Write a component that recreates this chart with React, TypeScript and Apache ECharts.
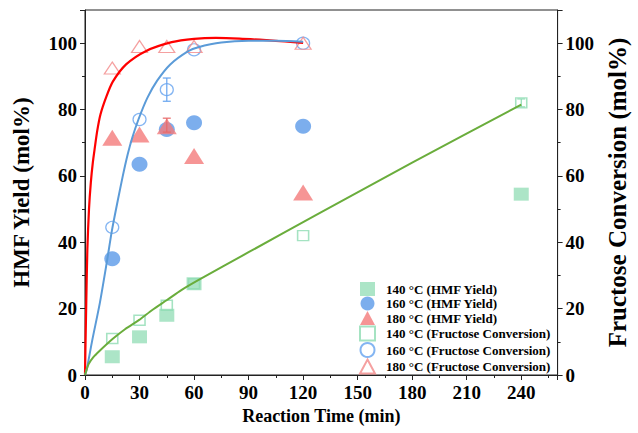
import React, { useEffect, useRef } from "react";
import * as echarts from "echarts";

// ---- data ----
const times = [15, 30, 45, 60, 120, 240];
const hmf140: (number | null)[] = [5.5, 11.5, 18, 27.5, null, 54.5];
const hmf160: (number | null)[] = [35, 63.5, 74, 76, 75, null];
const hmf180: (number | null)[] = [71.5, 72.5, 75, 66, 55, null];
const conv140: (number | null)[] = [11, 16.5, 21, 27.5, 42, 82];
const conv160: (number | null)[] = [44.5, 77, 86, 98, 100, null];
const conv180: (number | null)[] = [92.5, 99, 99, 99, 100, null];

// fitted curves: [time, value]
const fit180: number[][] = [
  [0, 0], [0.3, 10], [0.7, 22], [1.3, 38], [2.2, 50], [3.2, 58], [4.3, 64], [5.4, 68.5],
  [6.7, 73.5], [8.5, 78.5], [11.7, 83.8], [15.3, 88.4], [22.6, 93.6], [33.4, 97.6],
  [47.7, 100.3], [60, 101.3], [72, 101.6], [85, 101.4], [100, 100.9], [110, 100.5], [120, 100.1],
];
const fit160: number[][] = [
  [0, 0], [1, 1.8], [4, 10.5], [8.1, 21.5], [12, 34], [14.8, 43.5], [18, 52.5], [20.8, 60],
  [23.5, 66.5], [26, 71.5], [29.4, 77], [34.3, 83.5], [39.7, 88.7], [46.9, 93.6],
  [56.8, 97.6], [62.3, 98.8], [75, 100.2], [90, 100.7], [105, 100.7], [120, 100.4],
];
const fit140: number[][] = [
  [0, 0], [0.9, 1.6], [2, 3.3], [4.5, 5.3], [8.1, 7.3], [15.3, 10.9], [22, 13.8],
  [29.8, 16.6], [37, 19.6], [45.1, 22.6], [53, 25.6], [62.3, 28.6], [90, 37], [127, 48.2],
  [180, 64], [240, 81.5],
];
// error bars: [time, low, high]
const errConv160: number[][] = [[45, 82.5, 89.5]];
const errHmf180: number[][] = [[45, 73.2, 77.4]];
const errConv140: number[][] = [[240, 80.8, 83.2]];

const xTicks = { min: 0, max: 260, interval: 30 };
const yTicks = { min: 0, max: 110, interval: 20 };

const FONT = "Liberation Serif";
const C_SQ = "#97dfb9";
const C_CI = "#5b9ae8";
const C_TR = "#f47b7b";
const C_SQ_O = "#8edcb3";
const C_CI_O = "#65a3ef";
const C_TR_O = "#f38888";

function pairs(vals: (number | null)[]) {
  const out: number[][] = [];
  vals.forEach((v, i) => {
    if (v !== null) out.push([times[i], v]);
  });
  return out;
}

function errSeries(data: number[][], color: string) {
  return {
    type: "custom",
    z: 4,
    data,
    renderItem: (_p: any, api: any) => {
      const x = api.value(0);
      const lo = api.coord([x, api.value(1)]);
      const hi = api.coord([x, api.value(2)]);
      const w = 4;
      const st = { stroke: color, lineWidth: 1.2 };
      return {
        type: "group",
        children: [
          { type: "line", shape: { x1: lo[0], y1: lo[1], x2: hi[0], y2: hi[1] }, style: st },
          { type: "line", shape: { x1: lo[0] - w, y1: lo[1], x2: lo[0] + w, y2: lo[1] }, style: st },
          { type: "line", shape: { x1: hi[0] - w, y1: hi[1], x2: hi[0] + w, y2: hi[1] }, style: st },
        ],
      };
    },
  };
}

export default function App() {
  const ref = useRef<HTMLDivElement>(null);
  useEffect(() => {
    if (!ref.current) return;
    const chart = echarts.init(ref.current, null, { renderer: "svg" });
    const axisCommon = {
      axisLine: { show: true, lineStyle: { color: "#222", width: 1 } },
      axisTick: { show: true, inside: false, length: 5, lineStyle: { color: "#222" } },
      minorTick: { show: true, splitNumber: 2, length: 3, lineStyle: { color: "#222" } },
      splitLine: { show: false },
      axisLabel: {
        fontFamily: FONT,
        fontWeight: "bold",
        fontSize: 19,
        color: "#000",
        showMaxLabel: false,
      },
    };
    chart.setOption({
      animation: false,
      backgroundColor: "#fff",
      grid: {
        left: 85,
        right: 73,
        top: 10,
        bottom: 58,
        show: true,
        borderColor: "#222",
        borderWidth: 1,
      },
      xAxis: {
        type: "value",
        ...xTicks,
        ...axisCommon,
        axisLabel: { ...axisCommon.axisLabel, margin: 8 },
        name: "Reaction Time (min)",
        nameLocation: "middle",
        nameGap: 29,
        nameTextStyle: { fontFamily: FONT, fontWeight: "bold", fontSize: 18, color: "#000" },
      },
      yAxis: [
        {
          type: "value",
          position: "left",
          ...yTicks,
          ...axisCommon,
          axisLabel: { ...axisCommon.axisLabel, margin: 8 },
          name: "HMF Yield (mol%)",
          nameLocation: "middle",
          nameGap: 52,
          nameRotate: 90,
          nameTextStyle: { fontFamily: FONT, fontWeight: "bold", fontSize: 23, color: "#000" },
        },
        {
          type: "value",
          position: "right",
          ...yTicks,
          ...axisCommon,
          axisLabel: { ...axisCommon.axisLabel, margin: 8 },
          name: "Fructose Conversion (mol%)",
          nameLocation: "middle",
          nameGap: 46,
          nameRotate: 90,
          nameTextStyle: { fontFamily: FONT, fontWeight: "bold", fontSize: 25, color: "#000" },
        },
      ],
      legend: {
        orient: "vertical",
        left: 354,
        top: 277,
        itemWidth: 15,
        itemHeight: 14,
        itemGap: 0.5,
        textStyle: {
          fontFamily: FONT,
          fontWeight: "bold",
          fontSize: 13,
          color: "#000",
          padding: [0, 0, 0, 6],
        },
        data: [
          "140 °C (HMF Yield)",
          "160 °C (HMF Yield)",
          "180 °C (HMF Yield)",
          "140 °C (Fructose Conversion)",
          "160 °C (Fructose Conversion)",
          "180 °C (Fructose Conversion)",
        ],
      },
      series: [
        {
          name: "140 °C (HMF Yield)",
          type: "scatter",
          symbol: "rect",
          symbolSize: [15, 13],
          itemStyle: { color: C_SQ },
          data: pairs(hmf140),
          z: 2,
        },
        {
          name: "160 °C (HMF Yield)",
          type: "scatter",
          symbol: "circle",
          symbolSize: [16, 15],
          itemStyle: { color: C_CI },
          data: pairs(hmf160),
          z: 2,
        },
        {
          name: "180 °C (HMF Yield)",
          type: "scatter",
          symbol: "triangle",
          symbolSize: [20, 16],
          itemStyle: { color: C_TR },
          data: pairs(hmf180),
          z: 3,
        },
        {
          name: "140 °C (Fructose Conversion)",
          type: "scatter",
          symbol: "rect",
          symbolSize: [11, 10],
          itemStyle: { color: "rgba(255,255,255,0)", borderColor: C_SQ_O, borderWidth: 1.5 },
          data: pairs(conv140),
          z: 3,
        },
        {
          name: "160 °C (Fructose Conversion)",
          type: "scatter",
          symbol: "circle",
          symbolSize: [13, 12],
          itemStyle: { color: "rgba(255,255,255,0)", borderColor: C_CI_O, borderWidth: 1.2 },
          data: pairs(conv160),
          z: 3,
        },
        {
          name: "180 °C (Fructose Conversion)",
          type: "scatter",
          symbol: "triangle",
          symbolSize: [16, 12],
          itemStyle: { color: "rgba(255,255,255,0)", borderColor: C_TR_O, borderWidth: 1.2 },
          data: pairs(conv180),
          z: 3,
        },
        errSeries(errConv160, C_CI_O),
        errSeries(errHmf180, "#e86a6a"),
        errSeries(errConv140, C_SQ_O),
        {
          name: "fit180",
          type: "line",
          smooth: 0.25,
          showSymbol: false,
          lineStyle: { color: "#ff0000", width: 2.2 },
          data: fit180,
          z: 5,
        },
        {
          name: "fit160",
          type: "line",
          smooth: 0.25,
          showSymbol: false,
          lineStyle: { color: "#5b9bd8", width: 2 },
          data: fit160,
          z: 5,
        },
        {
          name: "fit140",
          type: "line",
          smooth: 0.25,
          showSymbol: false,
          lineStyle: { color: "#6aad3c", width: 2 },
          data: fit140,
          z: 5,
        },
      ],
    });
    return () => chart.dispose();
  }, []);
  return (
    <div
      ref={ref}
      style={{ position: "fixed", left: 0, top: 0, width: 638, height: 433, background: "#fff" }}
    />
  );
}
